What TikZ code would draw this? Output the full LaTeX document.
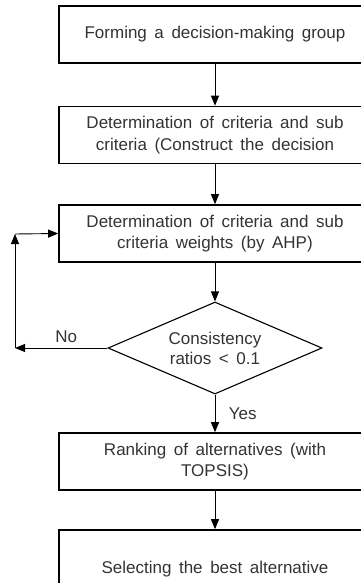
\documentclass[tikz,border=0pt]{standalone}
\usepackage{fontspec}
\setmainfont[WordSpace=1.6]{Liberation Sans}
\usetikzlibrary{positioning,shapes.geometric,arrows.meta}

\begin{document}
\begin{tikzpicture}[>={Triangle[length=10pt,width=8pt]},on grid,
	stepbox/.style={draw,line width=1.6pt,minimum width=312pt,minimum height=57pt,inner sep=0pt,align=center,text=black!80,font=\fontsize{17}{21.5}\selectfont},
	decision/.style={draw,diamond,aspect=2.3,line width=1.1pt,minimum width=214pt,minimum height=92pt,inner sep=0pt,align=center,text=black!80,font=\fontsize{17}{20}\selectfont},
	flow/.style={->,line width=0.9pt},
	lbl/.style={text=black!80,font=\fontsize{17}{20}\selectfont}]
			\useasboundingbox (0,0) rectangle (361pt,-583pt);
			\node[stepbox](group) at (215pt,-34.5pt) {Forming a decision-making group};
			\node[stepbox](crit)[below=100.5pt of group] {Determination of criteria and sub\\criteria (Construct the decision};
			\node[stepbox](weights)[below=98.5pt of crit] {Determination of criteria and sub\\criteria weights (by AHP)};
			\node[decision](ratio)[below=114.5pt of weights] {Consistency\\ratios < 0.1};
			\node[stepbox](rank)[below=113.5pt of ratio] {Ranking of alternatives (with\\TOPSIS)};
			\node[stepbox,minimum height=78pt](best)[below=107.5pt of rank] {Selecting the best alternative};
			\coordinate (noend) at (15pt,-348pt);
			\coordinate (backtop) at (15pt,-234pt);
			\path[flow]
			(group) edge (crit)
			(crit) edge (weights)
			(weights) edge (ratio)
			(ratio) edge node [lbl,midway,right,xshift=10pt] {Yes} (rank)
			(rank) edge (best)
			(ratio.west) edge node [lbl,midway,above,xshift=5pt,yshift=2pt] {No} (noend)
			(noend) edge (backtop)
			(backtop) edge (weights.west);
			\end{tikzpicture}
\end{document}
